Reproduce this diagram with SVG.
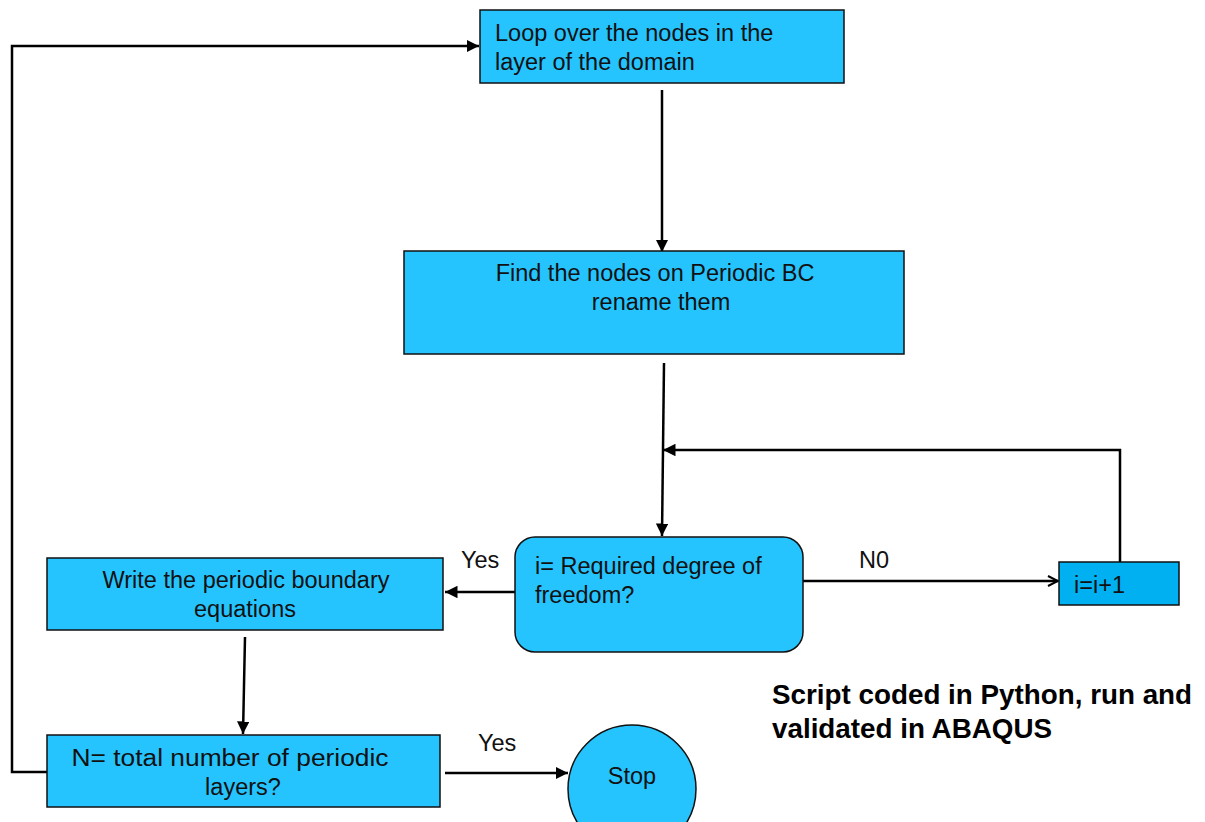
<svg xmlns="http://www.w3.org/2000/svg" width="1205" height="822" viewBox="0 0 1205 822">
<style>
.box{fill:#25C4FF;stroke:#111;stroke-width:1.5}
.t{font-family:"Liberation Sans",Arial,sans-serif;font-size:23.5px;fill:#111}
.c{text-anchor:middle}
.ln{fill:none;stroke:#000;stroke-width:2.5}
.b{font-family:"Liberation Sans",Arial,sans-serif;font-size:27.8px;font-weight:bold;fill:#000}
</style>
<defs>
<marker id="ah" viewBox="0 0 10 10" refX="10" refY="5" markerWidth="5" markerHeight="5" orient="auto" markerUnits="strokeWidth"><path d="M0,0 L10,5 L0,10 z" fill="#000"/></marker>
<marker id="oh" viewBox="0 0 10 10" refX="9" refY="5" markerWidth="5" markerHeight="5" orient="auto" markerUnits="strokeWidth"><path d="M1,1 L9,5 L1,9" fill="none" stroke="#000" stroke-width="1.6"/></marker>
</defs>
<rect width="1205" height="822" fill="#fff"/>
<g id="connectors">
<path class="ln" d="M662,90 L662,252" marker-end="url(#ah)"/>
<path class="ln" d="M664,363 L662,536" marker-end="url(#ah)"/>
<path class="ln" d="M1120,562 L1120,450 L663,450" marker-end="url(#ah)"/>
<path class="ln" d="M803,581 L1058,581" marker-end="url(#oh)"/>
<path class="ln" d="M515,592 L445,592" marker-end="url(#ah)"/>
<path class="ln" d="M245,637 L243,734" marker-end="url(#ah)"/>
<path class="ln" d="M47,772 L12,772 L12,46 L479,46" marker-end="url(#ah)"/>
<path class="ln" d="M445,773 L568,773" marker-end="url(#ah)"/>
<text class="t" x="461" y="568">Yes</text>
<text class="t" x="859" y="568">N0</text>
<text class="t" x="478" y="751">Yes</text>
</g>
<g id="loop">
<rect class="box" x="480" y="10" width="364" height="73"/>
<text class="t" x="495" y="41">Loop over the nodes in the</text>
<text class="t" x="495" y="70">layer of the domain</text>
</g>
<g id="find">
<rect class="box" x="404" y="251" width="500" height="103"/>
<text class="t c" x="655" y="281">Find the nodes on Periodic BC</text>
<text class="t c" x="661" y="310">rename them</text>
</g>
<g id="decision">
<rect class="box" x="515" y="537" width="288" height="115" rx="20"/>
<text class="t" x="535" y="574">i= Required degree of</text>
<text class="t" x="535" y="603">freedom?</text>
</g>
<g id="increment">
<rect x="1059" y="562" width="120" height="43" fill="#00B0F0" stroke="#111" stroke-width="1.5"/>
<text class="t" x="1074" y="593">i=i+1</text>
</g>
<g id="write">
<rect class="box" x="47" y="558" width="396" height="72"/>
<text class="t c" x="246" y="588">Write the periodic boundary</text>
<text class="t c" x="245" y="617">equations</text>
</g>
<g id="check">
<rect class="box" x="47" y="735" width="393" height="72"/>
<text class="t c" x="230" y="766" textLength="317" lengthAdjust="spacingAndGlyphs">N= total number of periodic</text>
<text class="t c" x="243" y="795">layers?</text>
</g>
<g id="stop">
<circle class="box" cx="632" cy="789" r="64"/>
<text class="t c" x="632" y="784">Stop</text>
</g>
<g id="note">
<text class="b" x="772" y="704">Script coded in Python, run and</text>
<text class="b" x="772" y="738">validated in ABAQUS</text>
</g>
</svg>
